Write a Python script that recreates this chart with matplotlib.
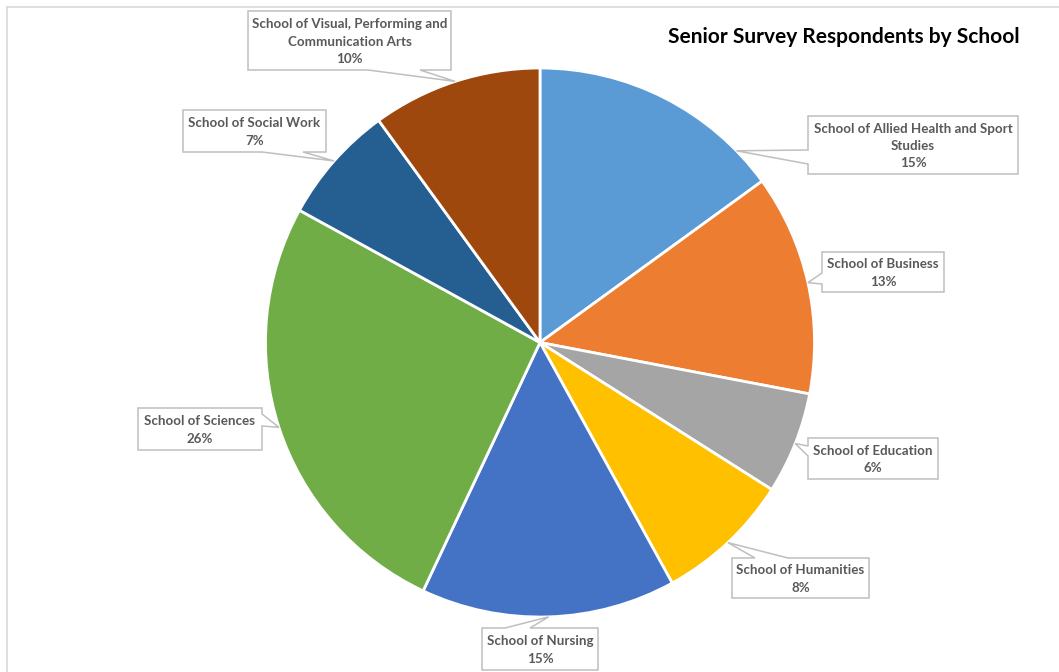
import numpy as np
import matplotlib.pyplot as plt
from matplotlib.patches import Polygon

# ------------ CONFIG -------------
W, H = 1059, 672          # canvas size in pixels (dpi 100)
CENTER = (540, 342.5)     # pie centre, pixels from top-left
RADIUS = 274.5
LABEL_COLOR = "#595959"
BOX_EDGE = "#BFBFBF"
FONT = ["Lato", "DejaVu Sans"]
# ---------------------------------

schools = [
    "School of Allied Health and Sport\nStudies",
    "School of Business",
    "School of Education",
    "School of Humanities",
    "School of Nursing",
    "School of Sciences",
    "School of Social Work",
    "School of Visual, Performing and\nCommunication Arts",
]
share_pct = [15, 13, 6, 8, 15, 26, 7, 10]
colors = ["#5B9BD5", "#ED7D31", "#A5A5A5", "#FFC000",
          "#4472C4", "#70AD47", "#255E91", "#9E480E"]

# callout boxes (x0, y0, x1, y1), pixels from top-left
boxes = [
    (808, 116, 1018, 174),
    (822, 252, 944, 292),
    (808, 438, 938, 479),
    (732, 558, 869, 598),
    (482, 628, 598, 670),
    (138, 408, 262, 450),
    (183, 110, 326, 152),
    (248, 11, 451, 70),
]
# which side of each box carries the pointer, and the span it leaves from
pointers = [
    ("left", 150, 164),
    ("left", 273, 284),
    ("left", 446, 456),
    ("top", 755, 788),
    ("top", 505, 530),
    ("right", 414, 426),
    ("bottom", 262, 303),
    ("bottom", 368, 420),
]
# pointer tips sit on the rim at the slice middle, except where nudged (deg)
tip_nudge = [-18.7, 0, 0, 0, 0, 0, 0, 0]


def to_y(y_img):
    return H - y_img


def callout_shape(box, pointer, tip):
    x0, y0, x1, y1 = box
    side, a, b = pointer
    pts = []
    # walk the rectangle clockwise (in image coordinates) and splice the notch in
    pts.append((x0, y0))
    if side == "top":
        pts += [(a, y0), tip, (b, y0)]
    pts.append((x1, y0))
    if side == "right":
        pts += [(x1, a), tip, (x1, b)]
    pts.append((x1, y1))
    if side == "bottom":
        pts += [(b, y1), tip, (a, y1)]
    pts.append((x0, y1))
    if side == "left":
        pts += [(x0, b), tip, (x0, a)]
    return [(x, to_y(y)) for x, y in pts]


def main():
    fig = plt.figure(figsize=(W / 100, H / 100), dpi=100)
    ax = fig.add_axes([0, 0, 1, 1])

    cx, cy = CENTER[0], to_y(CENTER[1])
    wedges, _ = ax.pie(
        share_pct, colors=colors, startangle=90, counterclock=False,
        center=(cx, cy), radius=RADIUS,
        wedgeprops=dict(edgecolor="white", linewidth=2.0),
    )
    ax.set_xlim(0, W)
    ax.set_ylim(0, H)
    ax.set_aspect("equal")
    ax.axis("off")

    # chart frame (only top and left edges show)
    ax.plot([7, W], [to_y(7), to_y(7)], color="#D9D9D9", lw=1.2, zorder=0)
    ax.plot([7, 7], [to_y(7), 0], color="#D9D9D9", lw=1.2, zorder=0)

    for i, w in enumerate(wedges):
        mid = np.deg2rad((w.theta1 + w.theta2) / 2 + tip_nudge[i])
        tip = (cx + RADIUS * np.cos(mid), H - (cy + RADIUS * np.sin(mid)))
        shape = callout_shape(boxes[i], pointers[i], tip)
        ax.add_patch(Polygon(shape, closed=True, facecolor="white",
                             edgecolor=BOX_EDGE, lw=1.1, zorder=3))
        x0, y0, x1, y1 = boxes[i]
        text = f"{schools[i]}\n{share_pct[i]}%"
        ax.text((x0 + x1) / 2, to_y((y0 + y1) / 2 + 1), text,
                ha="center", va="center", multialignment="center",
                fontsize=9.6, fontweight="bold", color=LABEL_COLOR,
                family=FONT, linespacing=1.52, zorder=4)

    ax.text(844, to_y(37), "Senior Survey Respondents by School",
            ha="center", va="center", fontsize=15, fontweight="bold",
            color="black", family=FONT, zorder=4)

    fig.savefig("out.png", dpi=100, facecolor="white")
    plt.close(fig)


if __name__ == "__main__":
    main()
